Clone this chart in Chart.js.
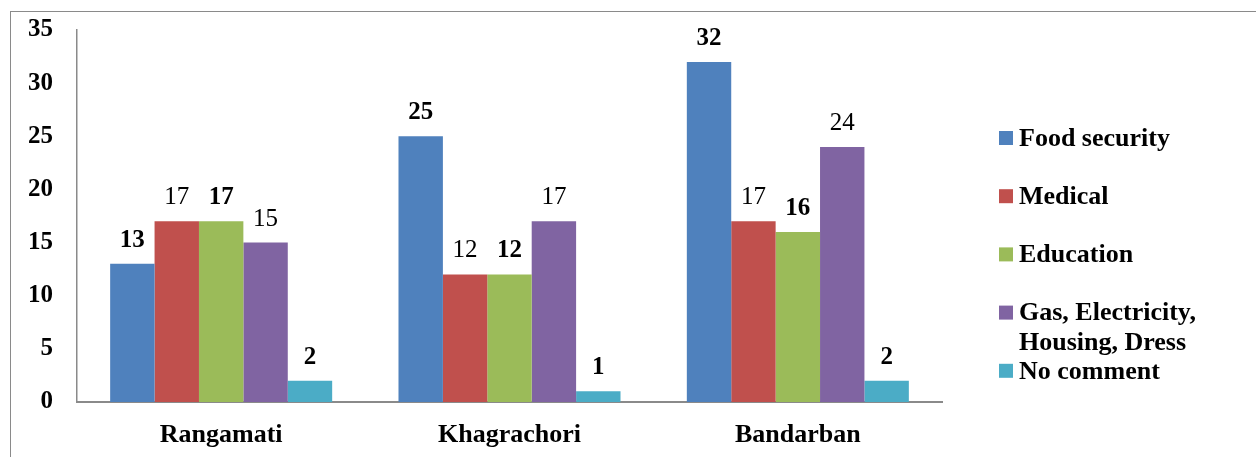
<!DOCTYPE html>
<html>
<head>
<meta charset="utf-8">
<title>Priority needs by district</title>
<script src="https://cdn.jsdelivr.net/npm/chart.js@4/dist/chart.umd.min.js"></script>
<style>
    body { margin: 0; background: #fff; }
    .wrap { position: relative; width: 1256px; height: 457px; overflow: hidden; }
    .frame { position: absolute; left: 10px; top: 11px; width: 1300px; height: 500px; border: 1px solid #8a8a8a; }
    canvas { position: absolute; left: 0; top: 0; }
</style>
</head>
<body>
<div class="wrap">
    <div class="frame"></div>
    <canvas id="chart" width="1256" height="457"></canvas>
</div>
<script>
// Data
const districts = ['Rangamati', 'Khagrachori', 'Bandarban'];
const seriesNames = ['Food security', 'Medical', 'Education', 'Gas, Electricity, Housing, Dress', 'No comment'];
const foodSecurity = [13, 25, 32];
const medical = [17, 12, 17];
const education = [17, 12, 16];
const gasElectricity = [15, 17, 24];
const noComment = [2, 1, 2];
const yTicks = [0, 5, 10, 15, 20, 25, 30, 35];

const colors = ['#4F81BD', '#C0504D', '#9BBB59', '#8064A2', '#4BACC6'];
const boldLabels = [true, false, true, false, true];
const serif = '"Liberation Serif", "Times New Roman", serif';

const seriesValues = [foodSecurity, medical, education, gasElectricity, noComment];

// Value labels above each bar
const valueLabels = {
    id: 'valueLabels',
    afterDatasetsDraw(chart) {
        const ctx = chart.ctx;
        ctx.save();
        ctx.fillStyle = '#000';
        ctx.textAlign = 'center';
        ctx.textBaseline = 'alphabetic';
        chart.data.datasets.forEach((ds, i) => {
            ctx.font = (boldLabels[i] ? 'bold ' : '') + '25px ' + serif;
            chart.getDatasetMeta(i).data.forEach((bar, j) => {
                ctx.fillText(String(ds.data[j]), bar.x, bar.y - 17);
            });
        });
        ctx.restore();
    }
};

// Legend on the right, with word wrap
const sideLegend = {
    id: 'sideLegend',
    afterDraw(chart) {
        const ctx = chart.ctx;
        const left = 999, textLeft = 1019, first = 138, step = 58.2, maxWidth = 200, lineH = 30;
        ctx.save();
        ctx.font = 'bold 26px ' + serif;
        ctx.textBaseline = 'middle';
        ctx.textAlign = 'left';
        chart.data.datasets.forEach((ds, i) => {
            const cy = first + i * step;
            ctx.fillStyle = ds.backgroundColor;
            ctx.fillRect(left, cy - 7, 14, 14);
            ctx.fillStyle = '#000';
            const lines = [];
            let line = '';
            ds.label.split(' ').forEach(word => {
                const test = line ? line + ' ' + word : word;
                if (line && ctx.measureText(test).width > maxWidth) {
                    lines.push(line);
                    line = word;
                } else {
                    line = test;
                }
            });
            lines.push(line);
            lines.forEach((t, k) => ctx.fillText(t, textLeft, cy + 1 + k * lineH));
        });
        ctx.restore();
    }
};

const chart = new Chart(document.getElementById('chart'), {
    type: 'bar',
    data: {
        labels: districts,
        datasets: seriesNames.map((name, i) => ({
            label: name,
            data: seriesValues[i],
            backgroundColor: colors[i],
            borderWidth: 0,
            barPercentage: 1,
            categoryPercentage: 0.77
        }))
    },
    options: {
        responsive: false,
        animation: false,
        layout: { padding: { left: 0, right: 314, top: 30, bottom: 0 } },
        plugins: {
            legend: { display: false },
            tooltip: { enabled: false }
        },
        scales: {
            x: {
                afterFit(scale) { scale.height = 55; },
                grid: { display: false, drawTicks: false },
                border: { color: '#8a8a8a', width: 2 },
                ticks: {
                    color: '#000',
                    padding: 18,
                    font: { family: serif, size: 26, weight: 'bold' }
                }
            },
            y: {
                min: 0,
                max: 35,
                afterFit(scale) {
                    scale.width = 77;
                    scale.paddingTop = 0;
                    scale.paddingBottom = 0;
                },
                afterBuildTicks(scale) { scale.ticks = yTicks.map(v => ({ value: v })); },
                grid: { display: false, drawTicks: false },
                border: { color: '#8a8a8a', width: 1.5 },
                ticks: {
                    color: '#000',
                    padding: 24,
                    font: { family: serif, size: 25, weight: 'bold' }
                }
            }
        }
    },
    plugins: [valueLabels, sideLegend]
});
</script>
</body>
</html>
